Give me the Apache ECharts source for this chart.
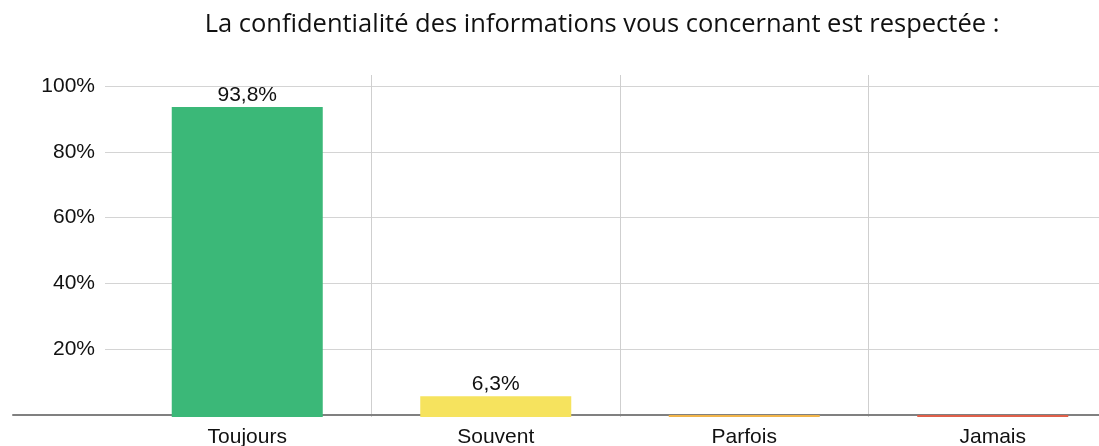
<!DOCTYPE html>
<html>
<head>
<meta charset="utf-8">
<script src="https://cdn.jsdelivr.net/npm/echarts@6/dist/echarts.min.js"></script>
<style>
  html, body { margin: 0; padding: 0; background: #fff; }
  #main { width: 1099px; height: 446px; }
</style>
</head>
<body>
<div id="main"></div>
<script>
// données du graphique
const titre = 'La confidentialité des informations vous concernant est respectée :';
const categories = ['Toujours', 'Souvent', 'Parfois', 'Jamais'];
const valeurs = [93.8, 6.3, 0, 0];
const couleurs = ['#3bb878', '#f6e35e', '#f2b54a', '#e0604a'];

const police = '"Liberation Sans", Arial, sans-serif';

// pourcentage à la française : 93,8%
const pct = (v) => String(v).replace('.', ',') + '%';

const myChart = echarts.init(document.getElementById('main'));
myChart.setOption({
  animation: false,
  title: {
    text: titre,
    left: 597,
    textAlign: 'center',
    top: 7,
    textStyle: { fontFamily: '"Open Sans", sans-serif', fontSize: 25.5, fontWeight: 'normal', color: '#111' }
  },
  grid: [
    // barres + lignes verticales
    { left: 123, right: -18, top: 75, bottom: 29, outerBoundsMode: 'none' },
    // lignes horizontales + étiquettes y
    { left: 105, right: 0, top: 86, bottom: 31, outerBoundsMode: 'none' },
    // ligne de l'axe x
    { left: 13, right: 0, top: 86, bottom: 31, outerBoundsMode: 'none' }
  ],
  xAxis: [
    {
      gridIndex: 0,
      type: 'category',
      data: categories,
      axisLine: { show: false },
      axisTick: { show: false },
      axisLabel: { margin: 10, fontSize: 21, color: '#111', fontFamily: police },
      splitLine: { show: true, showMinLine: false, lineStyle: { color: '#cfcfcf', width: 1 } }
    },
    { gridIndex: 1, type: 'value', show: false },
    {
      gridIndex: 2,
      type: 'value',
      axisLine: { show: true, lineStyle: { color: '#808080', width: 2 } },
      axisTick: { show: false },
      axisLabel: { show: false },
      splitLine: { show: false }
    }
  ],
  yAxis: [
    { gridIndex: 0, type: 'value', min: 0, max: 103.5, show: false, splitLine: { show: false } },
    {
      gridIndex: 1,
      type: 'value',
      min: 0,
      max: 100,
      interval: 20,
      axisLine: { show: false },
      axisTick: { show: false },
      axisLabel: {
        margin: 10,
        fontSize: 21,
        color: '#111',
        fontFamily: police,
        formatter: (v) => (v === 0 ? '' : v + '%')
      },
      splitLine: { show: true, showMinLine: false, lineStyle: { color: '#d4d4d4', width: 1 } }
    },
    { gridIndex: 2, type: 'value', show: false, splitLine: { show: false } }
  ],
  series: [
    {
      type: 'bar',
      xAxisIndex: 0,
      yAxisIndex: 0,
      z: 5,
      barWidth: 151,
      barMinHeight: 2,
      data: valeurs.map((v, i) => ({ value: v, itemStyle: { color: couleurs[i] } })),
      label: {
        show: true,
        position: 'top',
        distance: 1,
        fontSize: 21,
        color: '#111',
        fontFamily: police,
        formatter: (p) => (p.value > 0 ? pct(p.value) : '')
      }
    }
  ]
});
</script>
</body>
</html>
